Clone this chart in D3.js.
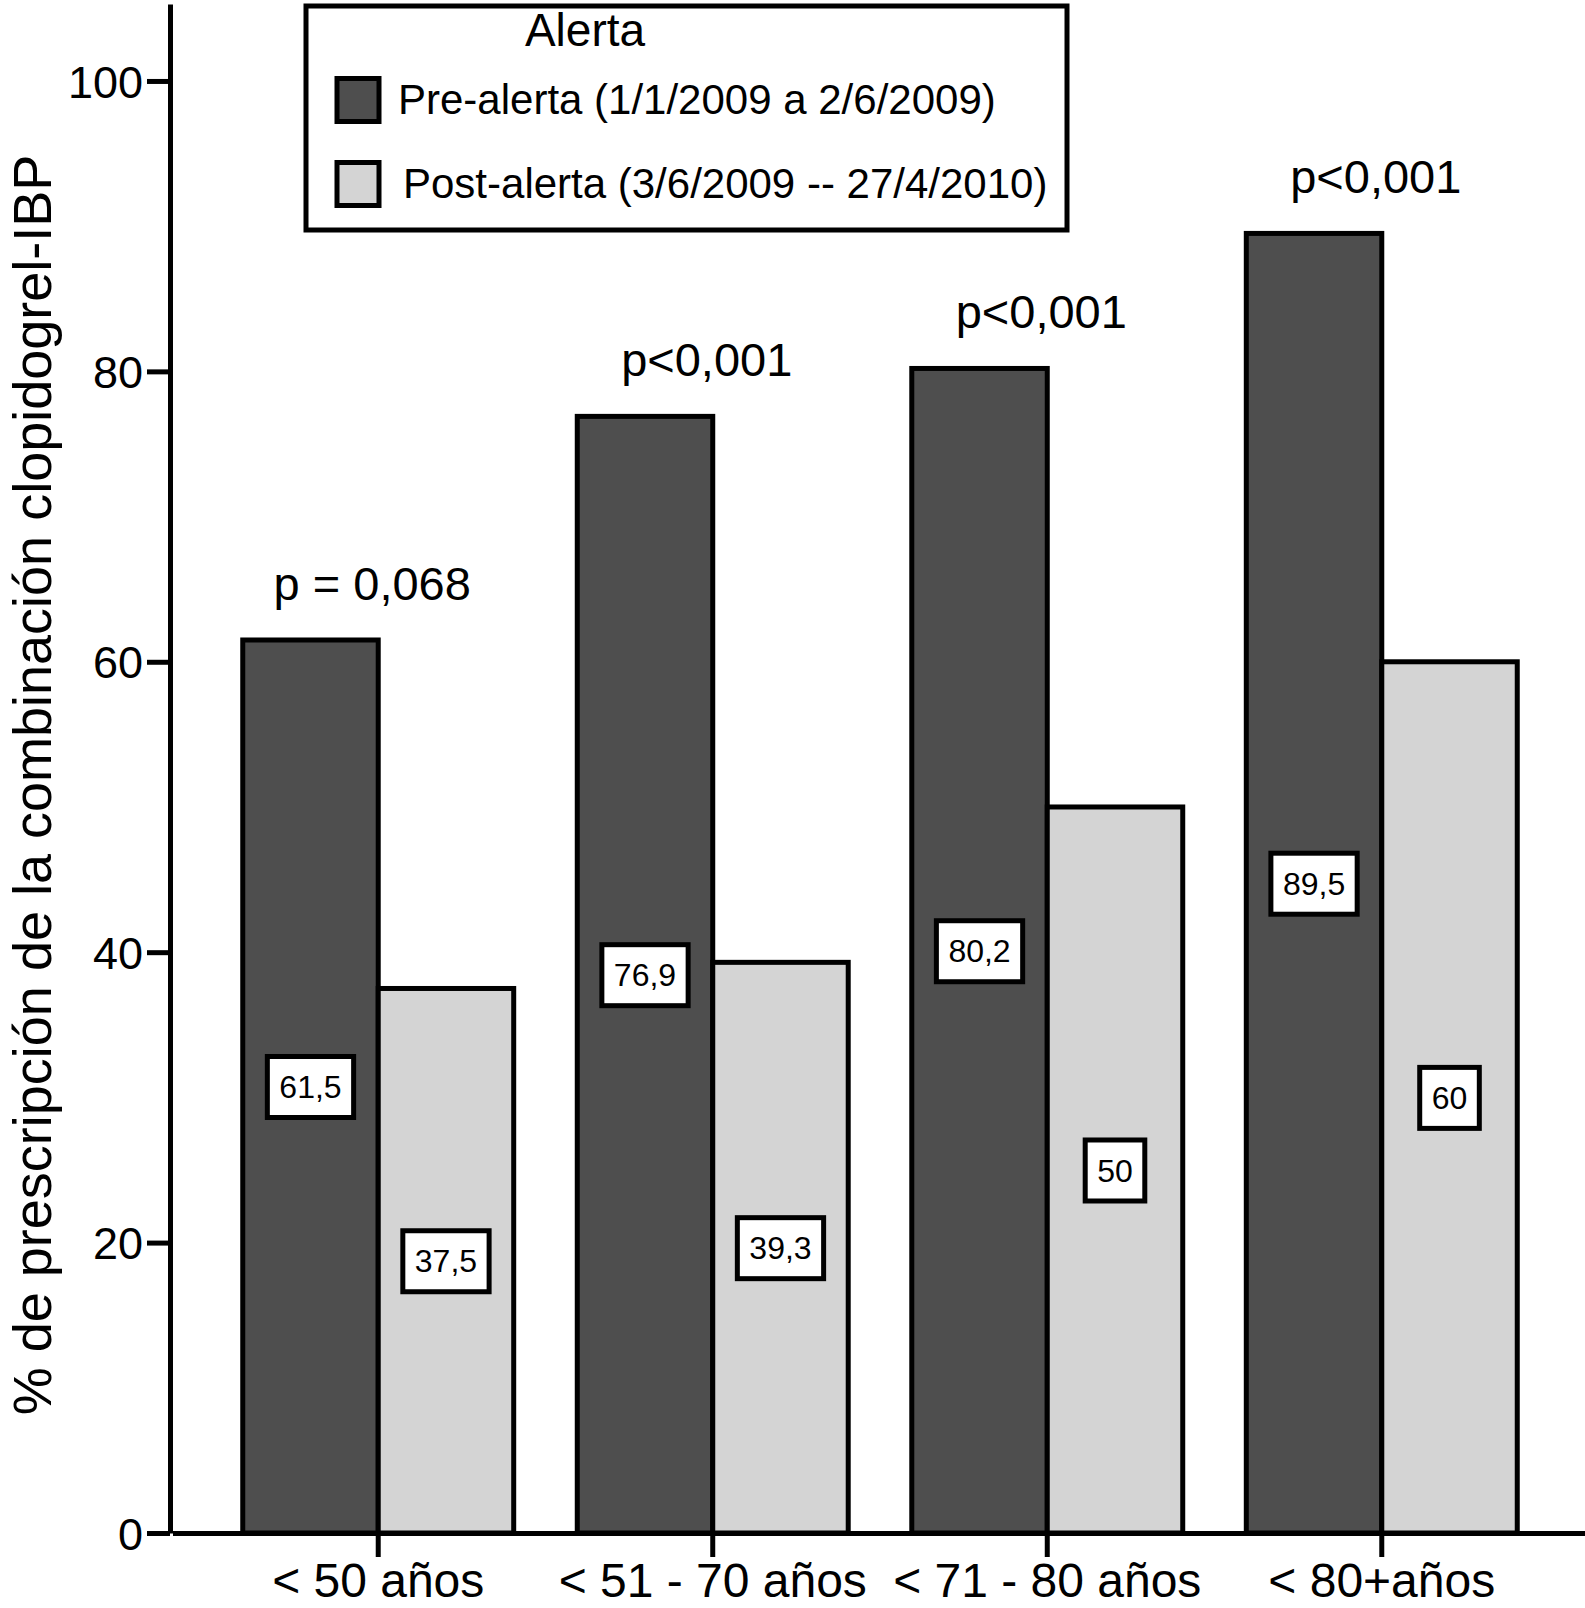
<!DOCTYPE html>
<html>
<head>
<meta charset="utf-8">
<script src="https://cdn.jsdelivr.net/npm/d3@7"></script>
<style>
  body { margin: 0; background: #fff; }
  text { font-family: "Liberation Sans", Arial, Helvetica, sans-serif; fill: #000; }
</style>
</head>
<body>
<svg width="1585" height="1608"></svg>
<script>
const groups = ["< 50 años", "< 51 - 70 años", "< 71 - 80 años", "< 80+años"];
const series = ["pre", "post"];
const seriesNames = ["Pre-alerta (1/1/2009 a 2/6/2009)", "Post-alerta (3/6/2009 -- 27/4/2010)"];
const preValues = [61.5, 76.9, 80.2, 89.5];
const postValues = [37.5, 39.3, 50, 60];
const preLabels = ["61,5", "76,9", "80,2", "89,5"];
const postLabels = ["37,5", "39,3", "50", "60"];
const pLabels = ["p = 0,068", "p<0,001", "p<0,001", "p<0,001"];
const yTicks = [0, 20, 40, 60, 80, 100];
const colors = { pre: "#4e4e4e", post: "#d4d4d4" };

const svg = d3.select("svg");
const width = +svg.attr("width");
const height = +svg.attr("height");
const margin = { top: 4, right: 0, bottom: 75, left: 170 };
const baseY = height - margin.bottom;

const data = groups.map((g, i) => ({
    group: g,
    p: pLabels[i],
    bars: [
        { key: "pre", value: preValues[i], label: preLabels[i] },
        { key: "post", value: postValues[i], label: postLabels[i] }
    ]
}));

let x0 = d3.scaleBand().domain(groups).range([margin.left, width]).paddingInner(0.19).paddingOuter(0.21);
let x1 = d3.scaleBand().domain(series).range([0, x0.bandwidth()]);
let yscale = d3.scaleLinear().domain([0, 105.3]).range([baseY, margin.top]);
const shift = 2.5;

// bars
const g = svg.append("g").selectAll("g").data(data).join("g")
    .attr("transform", d => "translate(" + (x0(d.group) + shift) + ",0)");

g.selectAll("rect.bar").data(d => d.bars).join("rect")
    .attr("class", "bar")
    .attr("x", d => x1(d.key))
    .attr("width", x1.bandwidth())
    .attr("y", d => yscale(d.value))
    .attr("height", d => yscale(0) - yscale(d.value))
    .attr("fill", d => colors[d.key])
    .attr("stroke", "#000")
    .attr("stroke-width", 5);

// value boxes at half height
const vb = g.selectAll("g.vb").data(d => d.bars).join("g")
    .attr("class", "vb")
    .attr("transform", d => "translate(" + (x1(d.key) + x1.bandwidth() / 2) + "," + yscale(d.value / 2) + ")");
vb.append("text")
    .attr("text-anchor", "middle")
    .attr("dy", "0.36em")
    .style("font-size", "32px")
    .text(d => d.label);
vb.each(function () {
    const t = d3.select(this).select("text");
    const w = t.node().getComputedTextLength();
    d3.select(this).insert("rect", "text")
        .attr("x", -w / 2 - 12)
        .attr("y", -30)
        .attr("width", w + 24)
        .attr("height", 61)
        .attr("fill", "#fff")
        .attr("stroke", "#000")
        .attr("stroke-width", 5);
});

// p-values above groups
g.append("text")
    .attr("x", x0.bandwidth() / 2 - 6)
    .attr("y", d => yscale(d.bars[0].value) - 40)
    .attr("text-anchor", "middle")
    .style("font-size", "47px")
    .text(d => d.p);

// y axis
const yaxis = d3.axisLeft(yscale).tickValues(yTicks).tickSize(23).tickSizeOuter(0).tickPadding(4);
const yg = svg.append("g").attr("transform", "translate(" + margin.left + ",0)").call(yaxis);
yg.select(".domain").attr("stroke-width", 5);
yg.selectAll(".tick line").attr("stroke-width", 5);
yg.selectAll(".tick text").style("font-size", "45px").attr("font-family", null).attr("dy", "0.36em");

// x axis
const xaxis = d3.axisBottom(x0).tickSize(24).tickSizeOuter(0).tickPadding(6);
const xg = svg.append("g").attr("transform", "translate(" + shift + "," + baseY + ")").call(xaxis);
xg.select(".domain").attr("stroke-width", 5);
xg.selectAll(".tick line").attr("stroke-width", 5);
xg.selectAll(".tick text").style("font-size", "48px").attr("font-family", null);

// y title
svg.append("text")
    .attr("transform", "translate(51," + 785 + ") rotate(-90)")
    .attr("text-anchor", "middle")
    .style("font-size", "54px")
    .text("% de prescripción de la combinación clopidogrel-IBP");

// legend
const legend = svg.append("g");
legend.append("rect")
    .attr("x", 306).attr("y", 6).attr("width", 761).attr("height", 224)
    .attr("fill", "#fff").attr("stroke", "#000").attr("stroke-width", 5);
legend.append("text")
    .attr("x", 585).attr("y", 46)
    .attr("text-anchor", "middle")
    .style("font-size", "46px")
    .text("Alerta");
const li = legend.selectAll("g.li").data(series).join("g")
    .attr("class", "li")
    .attr("transform", (d, i) => "translate(337," + (78.5 + i * 84) + ")");
li.append("rect")
    .attr("width", 42).attr("height", 43)
    .attr("fill", d => colors[d])
    .attr("stroke", "#000").attr("stroke-width", 5);
li.append("text")
    .attr("x", (d, i) => 61 + i * 5)
    .attr("y", 35)
    .style("font-size", "42px")
    .text((d, i) => seriesNames[i]);
</script>
</body>
</html>
